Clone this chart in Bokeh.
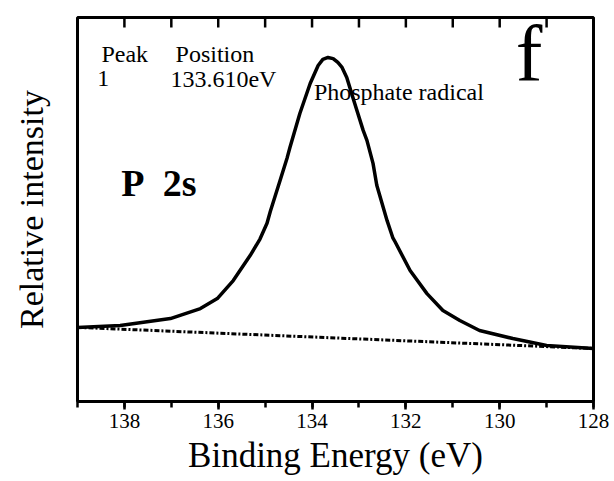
from bokeh.plotting import figure
from bokeh.models import Range1d, SingleIntervalTicker, FixedTicker, Label, ColumnDataSource
from bokeh.embed import file_html
from bokeh.resources import INLINE

# ---- data ----
energy = [139.00, 138.09, 137.02, 136.38, 136.02, 135.68, 135.32, 135.11, 134.96, 134.89,
          134.68, 134.53, 134.47, 134.26, 134.04, 133.87, 133.77, 133.66, 133.55, 133.45,
          133.36, 133.26, 133.13, 133.09, 132.91, 132.83, 132.70, 132.62, 132.40, 132.28,
          132.23, 131.91, 131.55, 131.21, 130.85, 130.43, 129.72, 129.00, 128.00]
intensity = [19.3, 19.8, 21.6, 24.2, 26.8, 31.5, 38.0, 42.3, 46.4, 49.5,
             57.6, 63.5, 66.2, 75.0, 82.8, 87.5, 89.1, 89.6, 89.3, 88.3,
             87.0, 84.4, 79.2, 77.6, 70.6, 68.0, 62.0, 56.3, 47.1, 42.7,
             41.6, 34.1, 28.1, 23.7, 21.1, 18.5, 16.4, 14.6, 13.8]
bg_energy = [139.0, 128.0]
bg_intensity = [19.3, 13.8]
x_major_interval = 2
top_ticks = [138, 137, 136, 135, 134, 133, 132, 131, 130, 129]
peak_number = "1"
peak_position = "133.610eV"

SERIF = "Liberation Serif"
PLOT_H = 481
BORDER_TOP, BORDER_BOTTOM = 17, 80
Y_MIN, Y_MAX = 0, 100
TICK_PX = 10

p = figure(width=614, height=PLOT_H, x_range=Range1d(139, 128), y_range=Range1d(Y_MIN, Y_MAX),
           output_backend="svg", toolbar_location=None,
           min_border_left=77, min_border_right=21, min_border_top=BORDER_TOP,
           min_border_bottom=BORDER_BOTTOM)
p.xgrid.visible = False
p.ygrid.visible = False
p.background_fill_color = "white"
p.border_fill_color = "white"
p.outline_line_color = "black"
p.outline_line_width = 3
p.outline_line_alpha = 1

ax = p.xaxis[0]
ax.ticker = SingleIntervalTicker(interval=x_major_interval, num_minor_ticks=2)
ax.axis_line_width = 3
ax.major_tick_line_width = 2.5
ax.minor_tick_line_width = 2.5
ax.major_tick_in = 0
ax.major_tick_out = 8
ax.minor_tick_in = 0
ax.minor_tick_out = 6
ax.major_label_text_font = SERIF
ax.major_label_text_font_size = "21px"
ax.major_label_text_color = "black"
ax.major_label_standoff = 4
ax.axis_label = "Binding Energy (eV)"
ax.axis_label_text_font = SERIF
ax.axis_label_text_font_size = "35px"
ax.axis_label_text_font_style = "normal"
ax.axis_label_text_color = "black"
ax.axis_label_standoff = 5

ay = p.yaxis[0]
ay.ticker = FixedTicker(ticks=[])
ay.axis_line_color = None
ay.major_tick_line_color = None
ay.minor_tick_line_color = None
ay.axis_label = "Relative intensity"
ay.axis_label_text_font = SERIF
ay.axis_label_text_font_size = "34px"
ay.axis_label_text_font_style = "normal"
ay.axis_label_text_color = "black"
ay.axis_label_standoff = 28

# inward ticks hanging from the top frame edge, drawn fully inside the data range
units_per_px = (Y_MAX - Y_MIN) / (PLOT_H - BORDER_TOP - BORDER_BOTTOM)
src_tt = ColumnDataSource(dict(x=top_ticks,
                               y0=[Y_MAX - 0.01] * len(top_ticks),
                               y1=[Y_MAX - TICK_PX * units_per_px] * len(top_ticks)))
p.segment(x0="x", x1="x", y0="y0", y1="y1", source=src_tt,
          line_color="black", line_width=2.5, level="overlay")

src_bg = ColumnDataSource(dict(x=bg_energy, y=bg_intensity))
src_pk = ColumnDataSource(dict(x=energy, y=intensity))
p.line("x", "y", source=src_bg, line_color="black", line_width=3, line_dash="5 2 2 2")
p.line("x", "y", source=src_pk, line_color="black", line_width=3.5, line_join="round")

def lab(x, y, text, size, bold=False):
    p.add_layout(Label(x=x, y=y, text=text, text_font=SERIF, text_font_size=size,
                       text_font_style="bold" if bold else "normal", text_color="black",
                       text_align="left", text_baseline="alphabetic"))

lab(138.49, 90.6, "Peak", "24px")
lab(136.91, 90.6, "Position", "24px")
lab(138.58, 84.0, peak_number, "24px")
lab(137.02, 84.0, peak_position, "24px")
lab(133.96, 80.7, "Phosphate radical", "24px")
lab(138.07, 56.8, "P", "38px", bold=True)
lab(137.18, 56.8, "2s", "38px", bold=True)
lab(129.66, 90.4, "f", "80px")

open("out.html", "w").write(file_html(p, INLINE))
